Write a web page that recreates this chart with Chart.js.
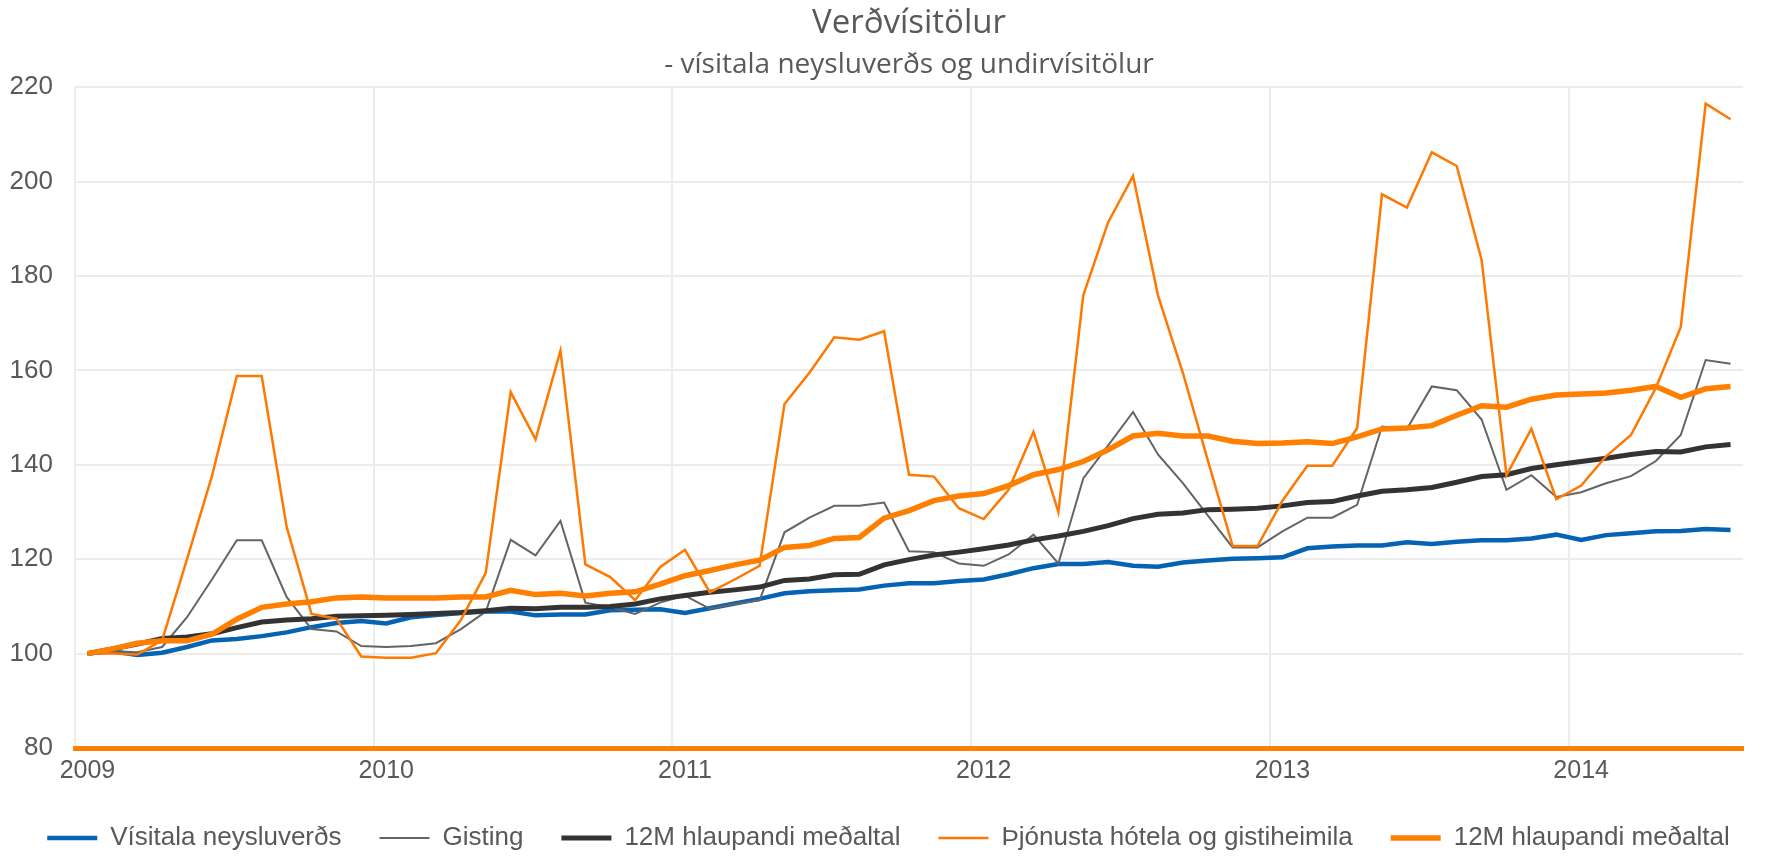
<!DOCTYPE html>
<html>
<head>
<meta charset="utf-8">
<script src="https://cdn.jsdelivr.net/npm/chart.js@4.4.1/dist/chart.umd.min.js"></script>
<style>
  html, body { margin: 0; padding: 0; background: #fff; }
  #wrap { width: 1777px; height: 857px; }
</style>
</head>
<body>
<div id="wrap"><canvas id="myChart"></canvas></div>
<script>
const years = [2009, 2010, 2011, 2012, 2013, 2014];
const lastYearMonths = 7;
const yTicks = [80, 100, 120, 140, 160, 180, 200, 220];

const cpi = [100, 100.5, 99.7, 100.2, 101.4, 102.8, 103.1, 103.7, 104.5, 105.6, 106.5, 106.9,
  106.4, 107.7, 108.2, 108.6, 108.9, 108.9, 108.1, 108.3, 108.3, 109.2, 109.3, 109.4,
  108.6, 109.6, 110.6, 111.6, 112.8, 113.2, 113.4, 113.6, 114.4, 114.9, 114.9, 115.4,
  115.7, 116.8, 118.1, 119.0, 119.0, 119.4, 118.6, 118.4, 119.3, 119.7, 120.1, 120.2,
  120.4, 122.3, 122.7, 122.9, 122.9, 123.6, 123.2, 123.7, 124.0, 124.0, 124.4, 125.2,
  124.1, 125.1, 125.5, 125.9, 126.0, 126.4, 126.2];

const gisting = [100, 100.5, 100.3, 101.4, 107.7, 115.7, 124.0, 124.0, 112.0, 105.2, 104.7, 101.6,
  101.4, 101.6, 102.2, 105.2, 108.9, 124.1, 120.8, 128.1, 110.8, 109.8, 108.4, 110.8,
  112.3, 109.5, 110.5, 111.3, 125.7, 128.8, 131.3, 131.3, 132.0, 121.7, 121.5, 119.1,
  118.6, 121.0, 125.2, 119.1, 137.1, 144.1, 151.2, 142.2, 136.1, 129.3, 122.5, 122.5,
  125.9, 128.8, 128.8, 131.5, 148.1, 147.6, 156.6, 155.8, 149.6, 134.7, 137.8, 133.2,
  134.2, 136.1, 137.6, 140.8, 146.3, 162.2, 161.4];

const gisting12m = [100, 101, 102, 103.2, 103.5, 104.2, 105.5, 106.7, 107.1, 107.4, 107.9, 108.0,
  108.1, 108.3, 108.5, 108.7, 109.1, 109.6, 109.5, 109.8, 109.8, 110.0, 110.5, 111.6,
  112.3, 113.0, 113.5, 114.1, 115.5, 115.8, 116.7, 116.8, 118.8, 119.9, 120.9, 121.5,
  122.2, 123.0, 124.1, 124.9, 125.9, 127.1, 128.6, 129.5, 129.8, 130.5, 130.6, 130.8,
  131.3, 132.0, 132.2, 133.4, 134.4, 134.7, 135.2, 136.3, 137.5, 137.9, 139.2, 140.0,
  140.7, 141.4, 142.2, 142.8, 142.7, 143.8, 144.3];

const hotel = [100, 100, 99.8, 102.8, 120.0, 137.6, 158.8, 158.8, 126.9, 108.4, 107.4, 99.4,
  99.1, 99.1, 100.1, 107.1, 117.1, 155.4, 145.4, 164.2, 118.9, 116.2, 111.3, 118.3,
  122.0, 113.0, 115.7, 118.6, 152.9, 159.5, 167.0, 166.5, 168.3, 137.9, 137.5, 130.8,
  128.5, 134.7, 147.0, 130.0, 175.9, 191.4, 201.2, 175.9, 159.5, 141.0, 122.8, 122.8,
  132.4, 139.8, 139.8, 147.8, 197.3, 194.5, 206.2, 203.3, 183.4, 137.8, 147.6, 132.7,
  135.6, 141.8, 146.3, 156.3, 169.2, 216.5, 213.2];

const hotel12m = [100, 101, 102.2, 102.7, 102.7, 104.1, 107.3, 109.8, 110.5, 111.0, 111.8, 112.0,
  111.8, 111.8, 111.8, 112.0, 112.0, 113.4, 112.5, 112.8, 112.2, 112.8, 113.1, 114.7,
  116.5, 117.6, 118.8, 119.8, 122.5, 122.9, 124.4, 124.6, 128.7, 130.3, 132.4, 133.4,
  133.9, 135.6, 137.9, 139.0, 140.7, 143.2, 146.1, 146.7, 146.1, 146.1, 145.0, 144.5,
  144.6, 144.9, 144.5, 145.9, 147.6, 147.8, 148.3, 150.5, 152.5, 152.2, 153.9, 154.8,
  155.0, 155.2, 155.8, 156.6, 154.3, 156.1, 156.6];

// monthly categories, year shown only on January
const labels = [];
years.forEach((y, i) => {
  const n = i === years.length - 1 ? lastYearMonths : 12;
  for (let m = 1; m <= n; m++) labels.push(y + '-' + String(m).padStart(2, '0'));
});

const textColor = '#595959';
const gridColor = '#ececec';

const ctx = document.getElementById('myChart').getContext('2d');
new Chart(ctx, {
  type: 'line',
  data: {
    labels: labels,
    datasets: [
      { label: 'Vísitala neysluverðs', data: cpi, borderColor: '#0563b4', backgroundColor: '#0563b4', borderWidth: 4.5, order: 5 },
      { label: 'Gisting', data: gisting, borderColor: '#646464', backgroundColor: '#646464', borderWidth: 2, order: 4 },
      { label: '12M hlaupandi meðaltal', data: gisting12m, borderColor: '#333333', backgroundColor: '#333333', borderWidth: 5, order: 3 },
      { label: 'Þjónusta hótela og gistiheimila', data: hotel, borderColor: '#ff7800', backgroundColor: '#ff7800', borderWidth: 2.5, order: 2 },
      { label: '12M hlaupandi meðaltal', data: hotel12m, borderColor: '#ff7f00', backgroundColor: '#ff7f00', borderWidth: 5.5, order: 1 }
    ]
  },
  options: {
    responsive: true,
    maintainAspectRatio: false,
    animation: false,
    elements: { point: { radius: 0 }, line: { tension: 0 } },
    layout: { padding: 0 },
    plugins: {
      title: {
        display: true,
        fullSize: false,
        text: 'Verðvísitölur',
        color: textColor,
        font: { family: 'Open Sans', size: 33, weight: 'normal' },
        padding: { top: 4, bottom: 5 }
      },
      subtitle: {
        display: true,
        fullSize: false,
        text: '- vísitala neysluverðs og undirvísitölur',
        color: textColor,
        font: { family: 'Open Sans', size: 28 },
        padding: { top: 0, bottom: 5 }
      },
      legend: {
        position: 'bottom',
        maxHeight: 70,
        labels: {
          sort: (a, b) => a.datasetIndex - b.datasetIndex,
          usePointStyle: true,
          pointStyle: 'line',
          pointStyleWidth: 50,
          color: textColor,
          font: { family: 'Liberation Sans', size: 26 },
          padding: 38
        }
      },
      tooltip: { enabled: false }
    },
    scales: {
      x: {
        offset: true,
        afterFit: (axis) => { axis.height = 39; },
        grid: {
          offset: true,
          drawTicks: false,
          color: (c) => (c.index % 12 === 0 ? gridColor : 'rgba(0,0,0,0)'),
          lineWidth: 2
        },
        border: { color: '#ff7f00', width: 5 },
        ticks: {
          autoSkip: false,
          maxRotation: 0,
          padding: 11,
          color: textColor,
          font: { family: 'Liberation Sans', size: 25, lineHeight: 1 },
          callback: function (v, i) {
            const l = labels[i];
            return l.endsWith('-01') ? l.slice(0, 4) : '';
          }
        }
      },
      y: {
        min: yTicks[0],
        max: yTicks[yTicks.length - 1],
        afterBuildTicks: (axis) => { axis.ticks = yTicks.map(v => ({ value: v })); },
        afterFit: (axis) => { axis.width = 75; },
        grid: { color: gridColor, lineWidth: 2, drawTicks: false },
        border: { display: false },
        ticks: {
          padding: 22,
          color: textColor,
          font: { family: 'Liberation Sans', size: 26 }
        }
      },
      // empty right margin so the legend can use the full width
      yRight: {
        position: 'right',
        afterFit: (axis) => { axis.width = 34; },
        grid: { display: false },
        border: { display: false },
        ticks: { display: false }
      }
    }
  }
});
</script>
</body>
</html>
